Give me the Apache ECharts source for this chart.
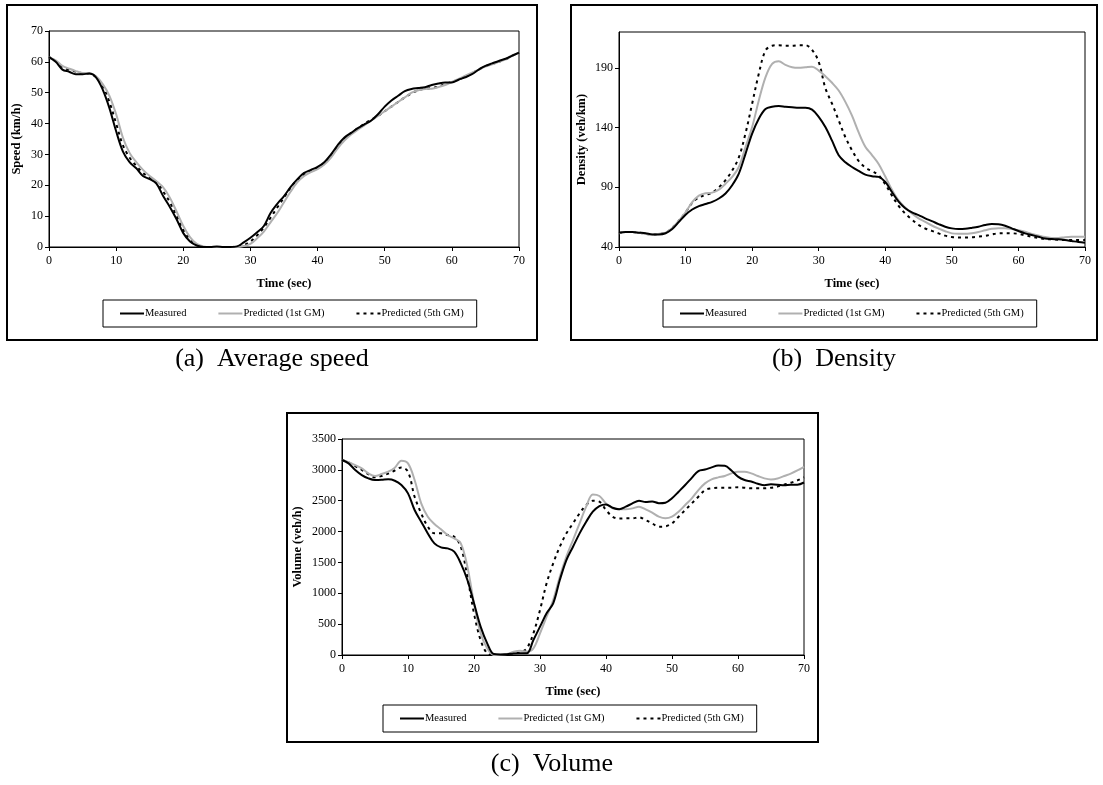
<!DOCTYPE html>
<html>
<head>
<meta charset="utf-8">
<title>Speed, density and volume</title>
<script src="https://cdn.jsdelivr.net/npm/echarts@6/dist/echarts.min.js"></script>
<style>
  html, body { margin: 0; padding: 0; background: #fff; }
  #chart { width: 1103px; height: 785px; }
</style>
</head>
<body>
<div id="chart"></div>
<script>
// time axis (sec)
var times = [0,1,2,3,4,5,6,7,8,9,10,11,12,13,14,15,16,17,18,19,20,21,22,23,24,25,26,27,28,29,30,
  31,32,33,34,35,36,37,38,39,40,41,42,43,44,45,46,47,48,49,50,51,52,53,54,55,56,57,58,59,60,
  61,62,63,64,65,66,67,68,69,70];

var seriesNames = ['Measured', 'Predicted (1st GM)', 'Predicted (5th GM)'];

// (a) average speed, km/h
var speedMeasured = [61.5,60,57.5,56.8,56,56,56.2,55,51,45,37.5,31,27.5,25.5,23,22,20.5,16.5,13,9,4.5,
  1.8,0.5,0,0,0.2,0,0,0.2,1.5,3,4.8,6.8,11,14,16.5,19.5,22,24,25,26,27.5,30,33,35.5,37,38.5,39.8,41,43,
  45.5,47.5,49,50.5,51.2,51.5,51.8,52.5,53,53.3,53.3,54.2,55,56,57.5,58.7,59.5,60.3,61,62,63];
var speed1st = [61.5,60.5,58.7,57.8,57,56.4,56.3,55.3,52.8,49,43,35.5,30.5,27.5,25,23,21.3,19.3,16,11.5,6.8,
  3.2,1,0.2,0,0,0,0,0,0.3,1,2.8,5,8,11,14.5,18,21,23,24.3,25.2,26.7,29,32,34.5,36.5,38,39.5,41,42.5,
  44,45.5,47,48.5,50,50.8,51.2,51.3,51.8,52.5,53.5,54.5,55.5,56.5,57.5,58.5,59.2,60,60.8,62,63];
var speed5th = [61.5,60.3,58.3,57.5,56.8,56.3,56.2,55.1,52.3,47,40,33,29,26.3,24,22.5,21,18,14.5,10,5.5,
  2.5,0.8,0.1,0,0,0,0,0.2,0.6,1.8,3.8,6.3,9.5,12.8,16,19.3,21.8,23.5,24.6,25.6,27,29.5,32.5,35,37,38.5,40,41.3,42.5,
  44,45.5,47,48.5,49.8,50.8,51.3,51.5,52,52.8,53.5,54.3,55.2,56.3,57.5,58.6,59.3,60,60.8,62,63];

// (b) density, veh/km
var densityMeasured = [52,52.5,52.5,52,51.5,50.5,50.5,51.5,55,61,67,71.4,74.2,76,77.8,80.6,84.8,91.7,101.5,118,135,
  147.4,155.5,157.5,158,157.5,157,156.5,156.5,155,149,140.4,129,116.8,111,107,103.7,100.6,99.3,98.7,94.5,
  86,78,72.5,69,66.7,64,61.7,59.2,57,55.6,55,55.2,56,57,58.4,59.2,59,57.8,55.6,53.4,
  51.4,50,48.6,47.2,46.7,46.4,45.8,45,44.2,43.6];
var density1st = [51.5,52.5,52.5,52,51,50.5,51,52,56,62,69,77.5,83,85,85.5,88,93,98.7,107,123.7,140.4,
  162.7,182,193.3,195.5,192.5,190.5,190,190.5,191,187.7,183,177.5,171,161.5,150,136,124,117,109.5,99,
  88,79,73,68,64,61,58,55.5,53.2,51.4,51,51,51.5,52.5,54,55.2,55.8,55.8,55,54,
  52.7,51,49.6,48.3,47.5,47.5,48.2,48.5,48.5,48.5];
var density5th = [51.5,52.5,52.5,52,51,50.5,51,52,56,62,69,77,81.5,83.5,85.5,90,96,104,115,135,160,
  185,204.5,208.5,209,208.5,208.5,209,209,205,195,173,160,146,132,121,112,106.5,103.5,100,92.5,
  83,74.5,68,63,58.5,55.5,53.5,51.4,49.5,48.3,48,48,48.2,48.7,49.3,50.5,51.5,51.6,51.5,51,
  49.8,48.6,47.5,46.8,46.4,46,45.8,45.8,45.8,45.8];

// (c) volume, veh/h
var volumeMeasured = [3159,3105,2997,2916,2862,2835,2838,2846,2824,2754,2619,2349,2160,1970,1809,1744,1728,1674,1485,1215,837,
  459,189,16,10,12,25,30,27,243,459,675,837,1215,1539,1755,1971,2160,2322,2414,2440,
  2386,2362,2403,2457,2500,2478,2489,2460,2468,2540,2646,2754,2870,2981,3005,3040,3070,3065,2990,2890,
  2835,2810,2775,2750,2765,2760,2750,2760,2760,2795];
var volume1st = [3160,3123,3078,3024,2943,2900,2932,2970,3035,3148,3105,2835,2457,2241,2122,2036,1944,1890,1809,1431,837,
  351,108,0,5,15,54,70,54,108,351,621,891,1269,1593,1863,2133,2403,2600,2576,2457,
  2376,2360,2360,2376,2403,2360,2306,2241,2214,2241,2322,2430,2538,2673,2781,2846,2878,2900,2943,2970,
  2970,2943,2900,2862,2845,2860,2900,2940,2990,3050];
var volume5th = [3160,3120,3060,3000,2930,2880,2900,2940,2990,3040,2970,2565,2295,2079,1971,1971,1944,1917,1755,1269,675,
  243,27,0,0,10,30,40,108,351,729,1161,1485,1755,1971,2133,2295,2430,2500,2484,2349,
  2241,2210,2214,2214,2230,2187,2133,2079,2085,2133,2241,2349,2457,2565,2673,2700,2710,2710,2710,2720,
  2710,2700,2700,2700,2710,2730,2760,2790,2830,2880];

var panelTitles = ['(a)  Average speed', '(b)  Density', '(c)  Volume'];
var yNames = ['Speed (km/h)', 'Density (veh/km)', 'Volume (veh/h)'];

var serif = '"Liberation Serif", "Times New Roman", serif';

function pairs(ys) {
  return times.map(function(t, i) { return [t, ys[i]]; });
}

var grids = [
  {left: 49, top: 31, width: 470, height: 216},
  {left: 619, top: 32, width: 466, height: 215},
  {left: 342, top: 439, width: 462, height: 216}
];
var boxes = [
  {x: 7, y: 5, width: 530, height: 335},
  {x: 571, y: 5, width: 526, height: 335},
  {x: 287, y: 413, width: 531, height: 329}
];
var legendPos = [
  {left: 103, top: 300},
  {left: 663, top: 300},
  {left: 383, top: 705}
];
var captionPos = [[272, 359], [834, 359], [552, 764]];
var yRanges = [
  {min: 0, max: 70, interval: 10, nameGap: 26},
  {min: 40, max: 220, interval: 50, nameGap: 31},
  {min: 0, max: 3500, interval: 500, nameGap: 38}
];
var panelData = [
  [speedMeasured, speed1st, speed5th],
  [densityMeasured, density1st, density5th],
  [volumeMeasured, volume1st, volume5th]
];
var lineStyles = [
  {color: '#000', width: 2, type: 'solid'},
  {color: '#b0b0b0', width: 2, type: 'solid'},
  {color: '#000', width: 2, type: [3, 4]}
];

var xAxes = [], yAxes = [], series = [], legends = [], graphics = [];

for (var k = 0; k < 3; ++k) {
  grids[k].show = true;
  grids[k].borderColor = '#000';
  grids[k].borderWidth = 1;

  xAxes.push({
    type: 'value',
    gridIndex: k,
    min: 0, max: 70, interval: 10,
    name: 'Time (sec)',
    nameLocation: 'middle',
    nameGap: 30,
    nameTextStyle: {fontFamily: serif, fontWeight: 'bold', fontSize: 12.5, color: '#000'},
    axisLine: {lineStyle: {color: '#000', width: 1}},
    axisTick: {length: 4, lineStyle: {color: '#000'}},
    axisLabel: {fontFamily: serif, fontSize: 12, color: '#000', margin: 8},
    splitLine: {show: false}
  });

  yAxes.push({
    type: 'value',
    gridIndex: k,
    min: yRanges[k].min, max: yRanges[k].max, interval: yRanges[k].interval,
    name: yNames[k],
    nameLocation: 'middle',
    nameGap: yRanges[k].nameGap,
    nameTextStyle: {fontFamily: serif, fontWeight: 'bold', fontSize: 12.5, color: '#000'},
    axisLine: {show: true, lineStyle: {color: '#000', width: 1}},
    axisTick: {show: true, length: 4, lineStyle: {color: '#000'}},
    axisLabel: {
      fontFamily: serif, fontSize: 12, color: '#000', margin: 6,
      showMaxLabel: k != 1,
      formatter: function(v) { return String(v); }
    },
    splitLine: {show: false}
  });

  for (var s = 0; s < 3; ++s) {
    series.push({
      name: seriesNames[s],
      type: 'line',
      xAxisIndex: k,
      yAxisIndex: k,
      data: pairs(panelData[k][s]),
      symbol: 'none',
      smooth: 0.35,
      z: 3 - s,
      itemStyle: {color: lineStyles[s].color},
      lineStyle: lineStyles[s]
    });
  }

  legends.push({
    data: seriesNames,
    left: legendPos[k].left,
    top: legendPos[k].top,
    orient: 'horizontal',
    selectedMode: false,
    itemWidth: 24,
    itemHeight: 10,
    itemGap: 31,
    padding: [8, 13, 8, 16],
    borderColor: '#000',
    borderWidth: 1,
    itemStyle: {opacity: 0},
    textStyle: {fontFamily: serif, fontSize: 10.5, color: '#000', padding: [0, 0, 0, -4]}
  });

  graphics.push({
    type: 'rect',
    shape: boxes[k],
    style: {fill: 'none', stroke: '#000', lineWidth: 2},
    z: 0
  });
  graphics.push({
    type: 'text',
    x: captionPos[k][0],
    y: captionPos[k][1],
    style: {
      text: panelTitles[k],
      fontFamily: serif,
      fontSize: 26,
      fill: '#000',
      textAlign: 'center',
      textVerticalAlign: 'middle'
    }
  });
}

var myChart = echarts.init(document.getElementById('chart'), null, {renderer: 'canvas'});
var option = {
  backgroundColor: '#fff',
  animation: false,
  grid: grids,
  xAxis: xAxes,
  yAxis: yAxes,
  legend: legends,
  graphic: graphics,
  series: series
};
myChart.setOption(option);
</script>
</body>
</html>
